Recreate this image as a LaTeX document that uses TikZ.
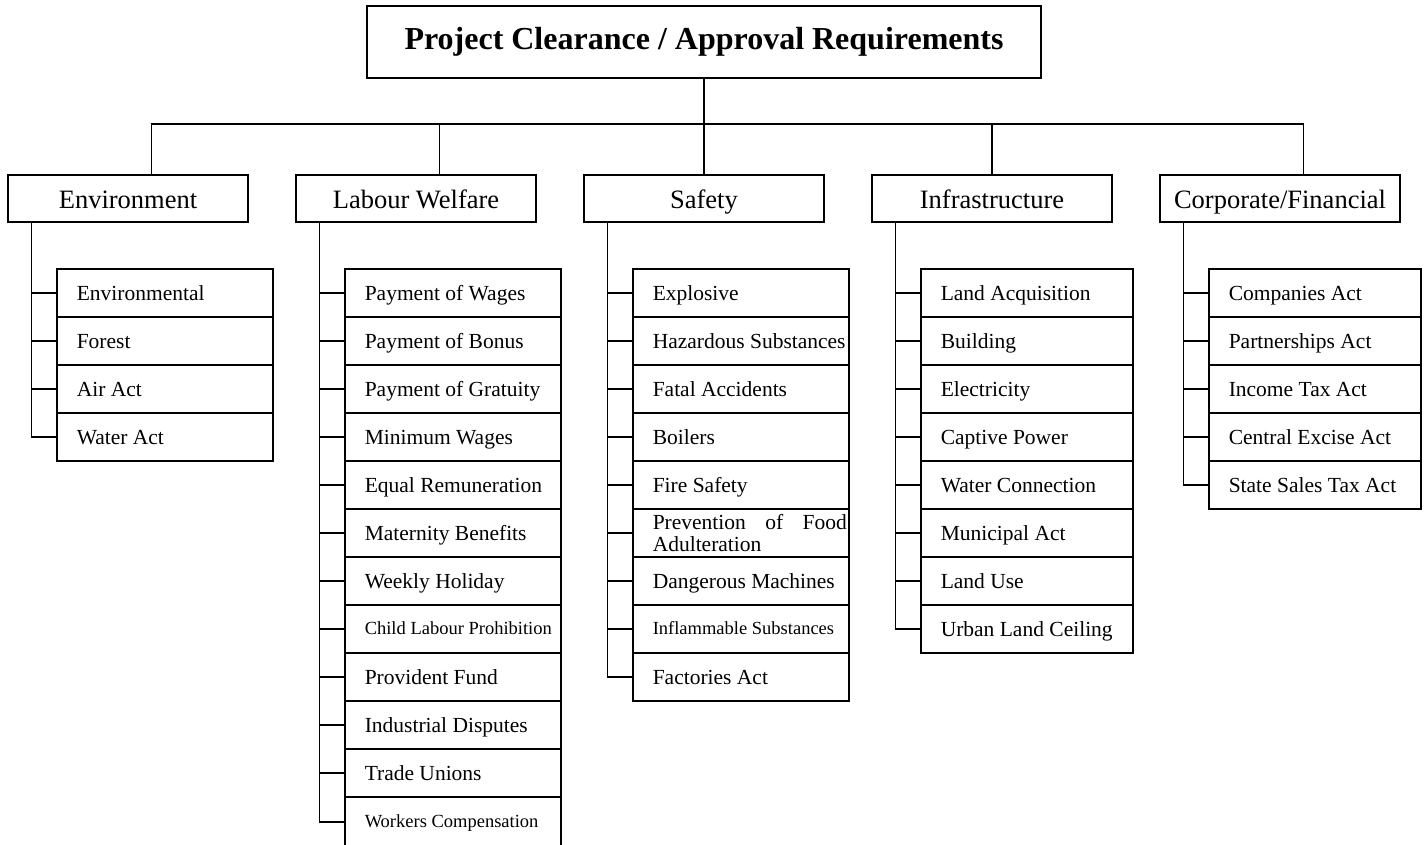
\documentclass[tikz,border=0pt]{standalone}
\usepackage{fontspec}
\setmainfont{Liberation Serif}
\newcommand{\ttlfont}{\fontsize{32}{36}\selectfont\bfseries}
\newcommand{\catfont}{\fontsize{26.5}{30}\selectfont}
\newcommand{\actfont}{\fontsize{21.5}{22}\selectfont}
\newcommand{\smallact}{\fontsize{18.5}{20}\selectfont}

\begin{document}
\begin{tikzpicture}[x=1pt, y=-1pt, line width=1.5pt,
  cat/.style={draw, minimum width=240pt, minimum height=47pt, inner sep=0pt, font=\catfont,
    text height=21pt, text depth=0pt},
  act/.style={draw, anchor=west, minimum height=48pt, text width=176pt, inner xsep=20pt,
    inner ysep=0pt, align=left, font=\actfont, text height=14.2pt, text depth=0pt,
    execute at begin node={\spaceskip=0pt\xspaceskip=0pt\hbox\bgroup},
    execute at end node=\egroup},
  nact/.style={act, text width=172pt},
  sact/.style={act, font=\smallact, text height=11pt}]
\useasboundingbox (0,0) rectangle (1428,845);
\clip (0,0) rectangle (1428,845);

\node[draw, minimum width=674pt, minimum height=72pt, font=\ttlfont] (req) at (704,42) {Project Clearance / Approval Requirements};

% the five groups
\node[cat] (env) at (128,198.5) {Environment};
\node[cat] (lab) at (416,198.5) {Labour Welfare};
\node[cat] (saf) at (704,198.5) {Safety};
\node[cat] (inf) at (992,198.5) {Infrastructure};
\node[cat] (corp) at (1280,198.5) {Corporate/Financial};

\draw (req.south) -- (saf.north);
\draw ([xshift=144pt]env.north west) -- ++(0,-50) -| ([xshift=144pt]corp.north west);
\draw ([xshift=144pt]lab.north west) -- ++(0,-50);
\draw (inf.north) -- ++(0,-50);

% environment
\node[act] (e1) at (56,293) {Environmental};
\node[act] (e2) at (56,341) {Forest};
\node[act] (e3) at (56,389) {Air Act};
\node[act] (e4) at (56,437) {Water Act};
\draw ([xshift=24pt]env.south west) |- (e4.west);
\draw (e1.west) -- +(-24,0) (e2.west) -- +(-24,0) (e3.west) -- +(-24,0);

% labour welfare
\node[act] (l1) at (344,293) {Payment of Wages};
\node[act] (l2) at (344,341) {Payment of Bonus};
\node[act] (l3) at (344,389) {Payment of Gratuity};
\node[act] (l4) at (344,437) {Minimum Wages};
\node[act] (l5) at (344,485) {Equal Remuneration};
\node[act] (l6) at (344,533) {Maternity Benefits};
\node[act] (l7) at (344,581) {Weekly Holiday};
\node[sact] (l8) at (344,629) {Child Labour Prohibition};
\node[act] (l9) at (344,677) {Provident Fund};
\node[act] (l10) at (344,725) {Industrial Disputes};
\node[act] (l11) at (344,773) {Trade Unions};
\node[sact, minimum height=50pt] (l12) at (344,822) {Workers Compensation};
\draw ([xshift=24pt]lab.south west) |- (l12.west);
\draw (l1.west) -- +(-24,0) (l2.west) -- +(-24,0) (l3.west) -- +(-24,0)
      (l4.west) -- +(-24,0) (l5.west) -- +(-24,0) (l6.west) -- +(-24,0)
      (l7.west) -- +(-24,0) (l8.west) -- +(-24,0) (l9.west) -- +(-24,0)
      (l10.west) -- +(-24,0) (l11.west) -- +(-24,0);

% safety
\node[act] (s1) at (632,293) {Explosive};
\node[act] (s2) at (632,341) {Hazardous Substances};
\node[act] (s3) at (632,389) {Fatal Accidents};
\node[act] (s4) at (632,437) {Boilers};
\node[act] (s5) at (632,485) {Fire Safety};
\node[act, text height=, text depth=] (s6) at (632,533) {\parbox{194pt}{Prevention of Food Adulteration}};
\node[act] (s7) at (632,581) {Dangerous Machines};
\node[sact] (s8) at (632,629) {Inflammable Substances};
\node[act] (s9) at (632,677) {Factories Act};
\draw ([xshift=24pt]saf.south west) |- (s9.west);
\draw (s1.west) -- +(-24,0) (s2.west) -- +(-24,0) (s3.west) -- +(-24,0)
      (s4.west) -- +(-24,0) (s5.west) -- +(-24,0) (s6.west) -- +(-24,0)
      (s7.west) -- +(-24,0) (s8.west) -- +(-24,0);

% infrastructure
\node[nact] (i1) at (920,293) {Land Acquisition};
\node[nact] (i2) at (920,341) {Building};
\node[nact] (i3) at (920,389) {Electricity};
\node[nact] (i4) at (920,437) {Captive Power};
\node[nact] (i5) at (920,485) {Water Connection};
\node[nact] (i6) at (920,533) {Municipal Act};
\node[nact] (i7) at (920,581) {Land Use};
\node[nact] (i8) at (920,629) {Urban Land Ceiling};
\draw ([xshift=24pt]inf.south west) |- (i8.west);
\draw (i1.west) -- +(-24,0) (i2.west) -- +(-24,0) (i3.west) -- +(-24,0)
      (i4.west) -- +(-24,0) (i5.west) -- +(-24,0) (i6.west) -- +(-24,0)
      (i7.west) -- +(-24,0);

% corporate / financial
\node[nact] (c1) at (1208,293) {Companies Act};
\node[nact] (c2) at (1208,341) {Partnerships Act};
\node[nact] (c3) at (1208,389) {Income Tax Act};
\node[nact] (c4) at (1208,437) {Central Excise Act};
\node[nact] (c5) at (1208,485) {State Sales Tax Act};
\draw ([xshift=24pt]corp.south west) |- (c5.west);
\draw (c1.west) -- +(-24,0) (c2.west) -- +(-24,0) (c3.west) -- +(-24,0)
      (c4.west) -- +(-24,0);
\end{tikzpicture}
\end{document}
